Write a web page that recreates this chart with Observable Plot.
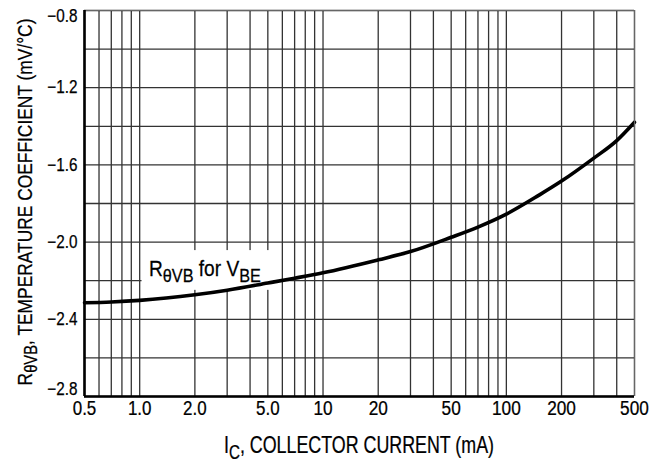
<!DOCTYPE html>
<html>
<head>
<meta charset="utf-8">
<script src="https://cdn.jsdelivr.net/npm/d3@7"></script>
<script src="https://cdn.jsdelivr.net/npm/@observablehq/plot@0.6"></script>
<style>
  html, body { margin: 0; padding: 0; background: #fff; }
  #chart svg { display: block; }
</style>
</head>
<body>
<div id="chart"></div>
<script>
// Collector current (mA)
const current = [0.5, 0.7, 1.0, 2.0, 3.0, 5.0, 7.0, 10, 20, 30, 50, 70, 100, 150, 200, 300, 400, 500];
// Temperature coefficient R_thetaVB for VBE (mV/°C)
const coeff = [-2.314, -2.31, -2.302, -2.273, -2.249, -2.212, -2.187, -2.159, -2.092, -2.049, -1.975, -1.922, -1.855, -1.758, -1.684, -1.565, -1.474, -1.379];

const xTickLabels = [0.5, 1.0, 2.0, 5.0, 10, 20, 50, 100, 200, 500];
const yTickLabels = [-2.8, -2.4, -2.0, -1.6, -1.2, -0.8];
const xGrid = [0.5, 0.6, 0.7, 0.8, 0.9, 1, 2, 3, 4, 5, 6, 7, 8, 9, 10, 20, 30, 40, 50, 60, 70, 80, 90, 100, 200, 300, 400, 500];
const yGrid = [-2.8, -2.6, -2.4, -2.2, -2.0, -1.8, -1.6, -1.4, -1.2, -1.0, -0.8];

const data = current.map((x, i) => ({x, y: coeff[i]}));

const FONT = '"Liberation Sans", Arial, Helvetica, sans-serif';
const fmtX = d => (d < 10 ? d.toFixed(1) : String(d));
const fmtY = d => "\u2212" + Math.abs(d).toFixed(1);

const plot = Plot.plot({
  width: 664,
  height: 463,
  marginLeft: 84,
  marginRight: 30,
  marginTop: 10,
  marginBottom: 67,
  style: {fontFamily: FONT, color: "#000", background: "#fff"},
  x: {type: "log", domain: [0.5, 500], label: null, axis: null},
  y: {domain: [-2.8, -0.8], label: null, axis: null},
  marks: [
    Plot.ruleX(xGrid, {stroke: "#333", strokeWidth: 1.3}),
    Plot.ruleY(yGrid, {stroke: "#333", strokeWidth: 1.3}),
    // label background box
    Plot.rect([0], {x1: () => 1.03, x2: () => 5.4, y1: () => -2.044, y2: () => -2.25, fill: "white"}),
    Plot.line(data, {x: "x", y: "y", curve: "monotone-x", stroke: "#000", strokeWidth: 3.6}),
    // frame
    Plot.ruleY([-0.8], {stroke: "#666", strokeWidth: 1.2}),
    Plot.ruleX([500], {stroke: "#666", strokeWidth: 1.2}),
    Plot.ruleX([0.5], {stroke: "#000", strokeWidth: 2.6}),
    Plot.ruleY([-2.8], {stroke: "#000", strokeWidth: 2.6}),
    // tick labels
    Plot.text(xTickLabels, {x: d => d, text: fmtX, frameAnchor: "bottom", dy: 18, fill: "#000"}),
    Plot.text(yTickLabels, {y: d => d, text: fmtY, frameAnchor: "left", textAnchor: "end", dx: -7, fill: "#000"})
  ]
});

document.getElementById("chart").appendChild(plot);

const svg = d3.select(plot);
const sx = plot.scale("x"), sy = plot.scale("y");

// tick labels: condensed look, widths matched to the reference glyph widths
const charW = c => (c === "." ? 4.4 : c === "\u2212" ? 9.2 : 9.6);
svg.selectAll("g[aria-label='text'] text").each(function() {
  const t = d3.select(this);
  let tr = t.attr("transform") || "";
  const txt = t.text();
  const isY = txt.startsWith("\u2212");
  const size = isY ? 18 : 20;
  t.attr("font-size", size).style("font-size", size + "px")
   .style("stroke", "#000").style("stroke-width", "0.25px");
  const w = this.getComputedTextLength();
  const target = Array.from(txt).reduce((s, c) => s + charW(c), 0) * (isY ? 0.92 : 1);
  const k = w > 0 ? target / w : 0.85;
  if (txt === "\u22120.8") tr = "translate(0,6) " + tr;
  if (txt === "\u22122.8") tr = "translate(0,-7) " + tr;
  t.attr("transform", tr + ` scale(${k},1)`);
});

function subText(g, parts, size) {
  parts.forEach(([t, sub]) => {
    const ts = g.append("tspan").text(t);
    if (sub) ts.attr("baseline-shift", "-30%").style("font-size", (size * 0.85) + "px");
    else ts.style("font-size", size + "px");
  });
}

function fitted(parts, size, x, y, rot, anchor, targetWidth) {
  const t = svg.append("text")
    .style("font-family", FONT).attr("fill", "#000").attr("text-anchor", anchor)
    .style("stroke", "#000").style("stroke-width", "0.25px");
  subText(t, parts, size);
  const w = t.node().getComputedTextLength();
  const k = targetWidth / w;
  t.attr("transform", `translate(${x},${y})` + (rot ? ` rotate(${rot})` : "") + ` scale(${k},1)`);
  return t;
}

// in-chart label
fitted([["R"], ["\u03B8VB", true], [" for V"], ["BE", true]], 22, sx.apply(1.13), sy.apply(-2.175) + 1, 0, "start", 112);
// x axis title
fitted([["I"], ["C", true], [", COLLECTOR CURRENT (mA)"]], 23, 359, 453, 0, "middle", 270);
// y axis title
fitted([["R"], ["\u03B8VB", true], [", TEMPERATURE COEFFICIENT (mV/\u00B0C)"]], 21, 32, 202, -90, "middle", 367);
</script>
</body>
</html>
